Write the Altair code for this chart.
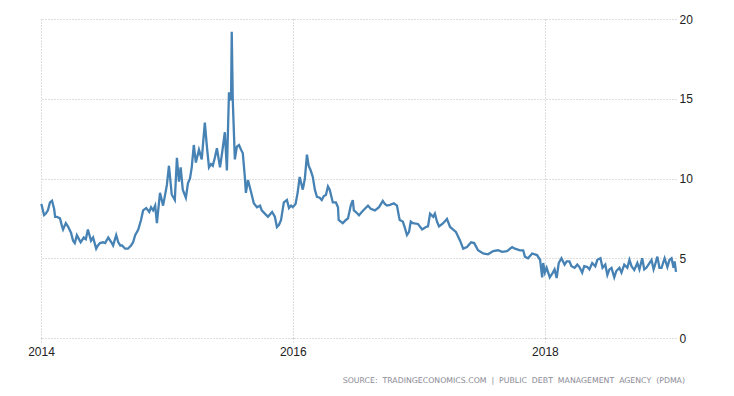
import altair as alt
import pandas as pd

dates_2014 = ["2014-01-02","2014-01-10","2014-01-15","2014-01-21","2014-01-27","2014-02-02","2014-02-08","2014-02-11",
              "2014-02-16","2014-02-25","2014-03-03","2014-03-06","2014-03-14","2014-03-20","2014-03-29","2014-04-04",
              "2014-04-09","2014-04-15","2014-04-21","2014-04-26","2014-05-05","2014-05-11","2014-05-17","2014-05-26",
              "2014-06-01","2014-06-10","2014-06-15","2014-06-21","2014-06-30","2014-07-06","2014-07-15","2014-07-24",
              "2014-07-29","2014-08-07","2014-08-13","2014-08-19","2014-08-24","2014-09-02","2014-09-10","2014-09-19",
              "2014-09-25","2014-10-01","2014-10-10","2014-10-18","2014-10-24","2014-11-02","2014-11-11","2014-11-16",
              "2014-11-22","2014-11-28","2014-12-03","2014-12-12","2014-12-21"]
values_2014 = [8.4,7.7,7.8,8.0,8.5,8.6,8.1,7.6,
               7.6,7.5,7.0,6.8,7.2,7.0,6.6,6.1,
               5.95,6.45,6.2,6.0,6.3,6.2,6.8,6.1,
               6.3,5.6,5.8,5.95,6.0,5.95,6.3,6.0,
               5.8,6.45,6.0,5.8,5.8,5.6,5.6,5.8,
               6.0,6.45,6.8,7.4,8.0,8.15,7.9,8.2,
               8.0,8.3,7.2,9.1,8.3]

dates_2015 = ["2015-01-01","2015-01-07","2015-01-15","2015-01-24","2015-01-30","2015-02-05","2015-02-10","2015-02-16",
              "2015-02-25","2015-03-03","2015-03-09","2015-03-14","2015-03-20","2015-03-26","2015-04-04","2015-04-12",
              "2015-04-21","2015-04-27","2015-05-03","2015-05-09","2015-05-14","2015-05-20","2015-05-26","2015-06-04",
              "2015-06-10","2015-06-18","2015-06-24","2015-06-30","2015-07-06","2015-07-08","2015-07-11","2015-07-17",
              "2015-07-23","2015-07-29","2015-08-04","2015-08-09","2015-08-15","2015-08-18","2015-08-24","2015-09-02",
              "2015-09-10","2015-09-19","2015-09-28","2015-10-03","2015-10-12","2015-10-21","2015-11-02","2015-11-10",
              "2015-11-16","2015-11-22","2015-11-28","2015-12-06","2015-12-15","2015-12-21","2015-12-27"]
values_2015 = [9.6,10.8,9.0,8.65,11.3,9.8,10.7,9.3,
               8.8,9.7,10.0,10.7,12.1,11.0,11.8,11.2,
               13.5,12.0,10.7,10.9,10.8,11.3,11.9,10.7,
               11.6,12.9,10.5,15.4,14.9,19.2,14.9,11.2,
               12.0,12.1,11.8,11.6,10.1,9.1,9.9,9.15,
               8.45,8.2,8.3,8.0,7.8,7.6,7.9,7.6,
               6.96,7.1,7.4,8.5,8.65,8.15,8.3]

dates_2016 = ["2016-01-01","2016-01-09","2016-01-15","2016-01-21","2016-01-30","2016-02-05","2016-02-11","2016-02-16",
              "2016-02-22","2016-02-28","2016-03-05","2016-03-11","2016-03-19","2016-03-25","2016-03-31","2016-04-06",
              "2016-04-12","2016-04-17","2016-04-26","2016-05-05","2016-05-11","2016-05-13","2016-05-19","2016-05-25",
              "2016-06-03","2016-06-09","2016-06-14","2016-06-17","2016-06-23","2016-06-26","2016-07-02","2016-07-11",
              "2016-07-19","2016-07-28","2016-08-06","2016-08-14","2016-08-26","2016-09-07","2016-09-18","2016-09-24",
              "2016-09-30","2016-10-09","2016-10-20","2016-10-29","2016-11-04","2016-11-06","2016-11-15","2016-11-21",
              "2016-11-27","2016-12-03","2016-12-08","2016-12-14","2016-12-29"]
values_2016 = [8.2,8.4,9.1,10.1,9.3,10.0,11.5,10.8,
               10.5,10.1,9.3,8.85,8.8,8.65,8.9,8.97,
               9.5,9.3,8.5,8.5,8.2,7.4,7.3,7.2,
               7.4,7.5,8.0,8.3,8.65,8.0,7.9,7.7,
               7.9,8.1,8.3,8.1,8.0,8.2,8.6,8.4,
               8.3,8.35,8.45,8.3,7.6,7.4,7.3,6.9,
               6.45,6.65,7.3,7.2,7.15]

dates_2017 = ["2017-01-10","2017-01-21","2017-01-27","2017-02-02","2017-02-11","2017-02-16","2017-02-22","2017-02-28",
              "2017-03-12","2017-03-23","2017-04-01","2017-04-10","2017-04-18","2017-04-30","2017-05-09","2017-05-20",
              "2017-06-01","2017-06-10","2017-06-21","2017-07-06","2017-07-20","2017-08-04","2017-08-18","2017-08-30",
              "2017-09-13","2017-09-28","2017-10-06","2017-10-21","2017-10-30","2017-11-04","2017-11-13","2017-11-25",
              "2017-12-09","2017-12-15","2017-12-18","2017-12-24","2017-12-27"]
values_2017 = [6.8,6.96,7.0,7.8,7.6,7.8,7.3,7.0,
               7.2,7.46,6.96,6.8,6.65,6.1,5.6,5.7,
               6.0,5.95,5.5,5.3,5.25,5.45,5.5,5.4,
               5.45,5.7,5.6,5.5,5.5,5.1,5.0,5.3,
               5.2,5.0,4.9,3.8,4.7]

dates_2018 = ["2018-01-01","2018-01-06","2018-01-15","2018-01-24","2018-01-29","2018-02-04","2018-02-10","2018-02-18",
              "2018-02-27","2018-03-05","2018-03-13","2018-03-19","2018-03-28","2018-04-05","2018-04-11","2018-04-19",
              "2018-04-25","2018-05-04","2018-05-10","2018-05-18","2018-05-27","2018-06-02","2018-06-11","2018-06-17",
              "2018-06-25","2018-07-01","2018-07-07","2018-07-13","2018-07-21","2018-07-27","2018-08-05","2018-08-11",
              "2018-08-19","2018-08-28","2018-09-03","2018-09-09","2018-09-17","2018-09-26","2018-10-02","2018-10-10",
              "2018-10-16","2018-10-22","2018-10-31","2018-11-06","2018-11-12","2018-11-15","2018-11-23","2018-11-29",
              "2018-12-05","2018-12-14","2018-12-22","2018-12-28","2019-01-03","2019-01-09","2019-01-12","2019-01-16"]
values_2018 = [4.1,4.4,3.8,4.1,4.3,3.76,4.7,5.0,
               4.6,4.8,4.8,4.5,4.4,4.6,4.45,4.1,
               4.5,4.45,4.3,4.7,4.5,4.9,5.0,4.4,
               4.6,3.95,4.3,4.4,3.8,4.2,4.4,4.1,
               4.6,4.4,4.9,4.5,4.26,4.7,4.3,5.0,
               4.3,4.4,4.7,4.9,4.3,4.5,5.1,4.4,
               4.4,5.0,4.45,4.9,5.0,4.4,4.8,4.14]

x_ticks = [2014, 2016, 2018]
y_ticks = [0, 5, 10, 15, 20]
source_text = "SOURCE:\u00a0 TRADINGECONOMICS.COM\u00a0 |\u00a0 PUBLIC\u00a0 DEBT\u00a0 MANAGEMENT\u00a0 AGENCY\u00a0 (PDMA)"

df = pd.DataFrame({
    "date": dates_2014 + dates_2015 + dates_2016 + dates_2017 + dates_2018,
    "value": values_2014 + values_2015 + values_2016 + values_2017 + values_2018,
})

grid_color = "#bdbdbd"

line = alt.Chart(df).mark_line(color="#4682b4", strokeWidth=2.3).encode(
    x=alt.X(
        "date:T",
        scale=alt.Scale(
            type="utc",
            domain=[alt.DateTime(year=2014, month=1, date=1, utc=True),
                    alt.DateTime(year=2019, month=1, date=16, utc=True)],
        ),
        axis=alt.Axis(
            title=None,
            values=[alt.DateTime(year=y, month=1, date=1, utc=True) for y in x_ticks],
            format="%Y",
            formatType="utc",
            domain=False,
            ticks=True,
            tickSize=5,
            tickColor=grid_color,
            tickDash=[1, 2],
            grid=True,
            gridColor=grid_color,
            gridDash=[1, 2],
            gridWidth=1,
            labelFlush=False,
            labelFont="Liberation Sans",
            labelFontSize=12,
            labelColor="#222222",
            labelPadding=3,
        ),
    ),
    y=alt.Y(
        "value:Q",
        scale=alt.Scale(domain=[0, 20]),
        axis=alt.Axis(
            title=None,
            orient="right",
            values=y_ticks,
            domain=False,
            ticks=False,
            grid=True,
            gridColor=grid_color,
            gridDash=[1, 2],
            gridWidth=1,
            labelFont="Liberation Sans",
            labelFontSize=12,
            labelColor="#222222",
            labelPadding=3,
        ),
    ),
)

source = alt.Chart(pd.DataFrame({"t": [source_text]})).mark_text(
    align="right", baseline="middle", font="DejaVu Sans", fontSize=7.8, color="#8a8a96"
).encode(
    text="t:N",
    x=alt.value(644),
    y=alt.value(362),
)

chart = alt.layer(line, source).properties(
    width=635,
    height=319,
    autosize=alt.AutoSizeParams(type="none"),
    padding={"left": 33, "top": 11, "right": 45, "bottom": 48},
).configure_view(stroke=None)

chart.save("out.html", embed_options={"renderer": "svg", "actions": False})
